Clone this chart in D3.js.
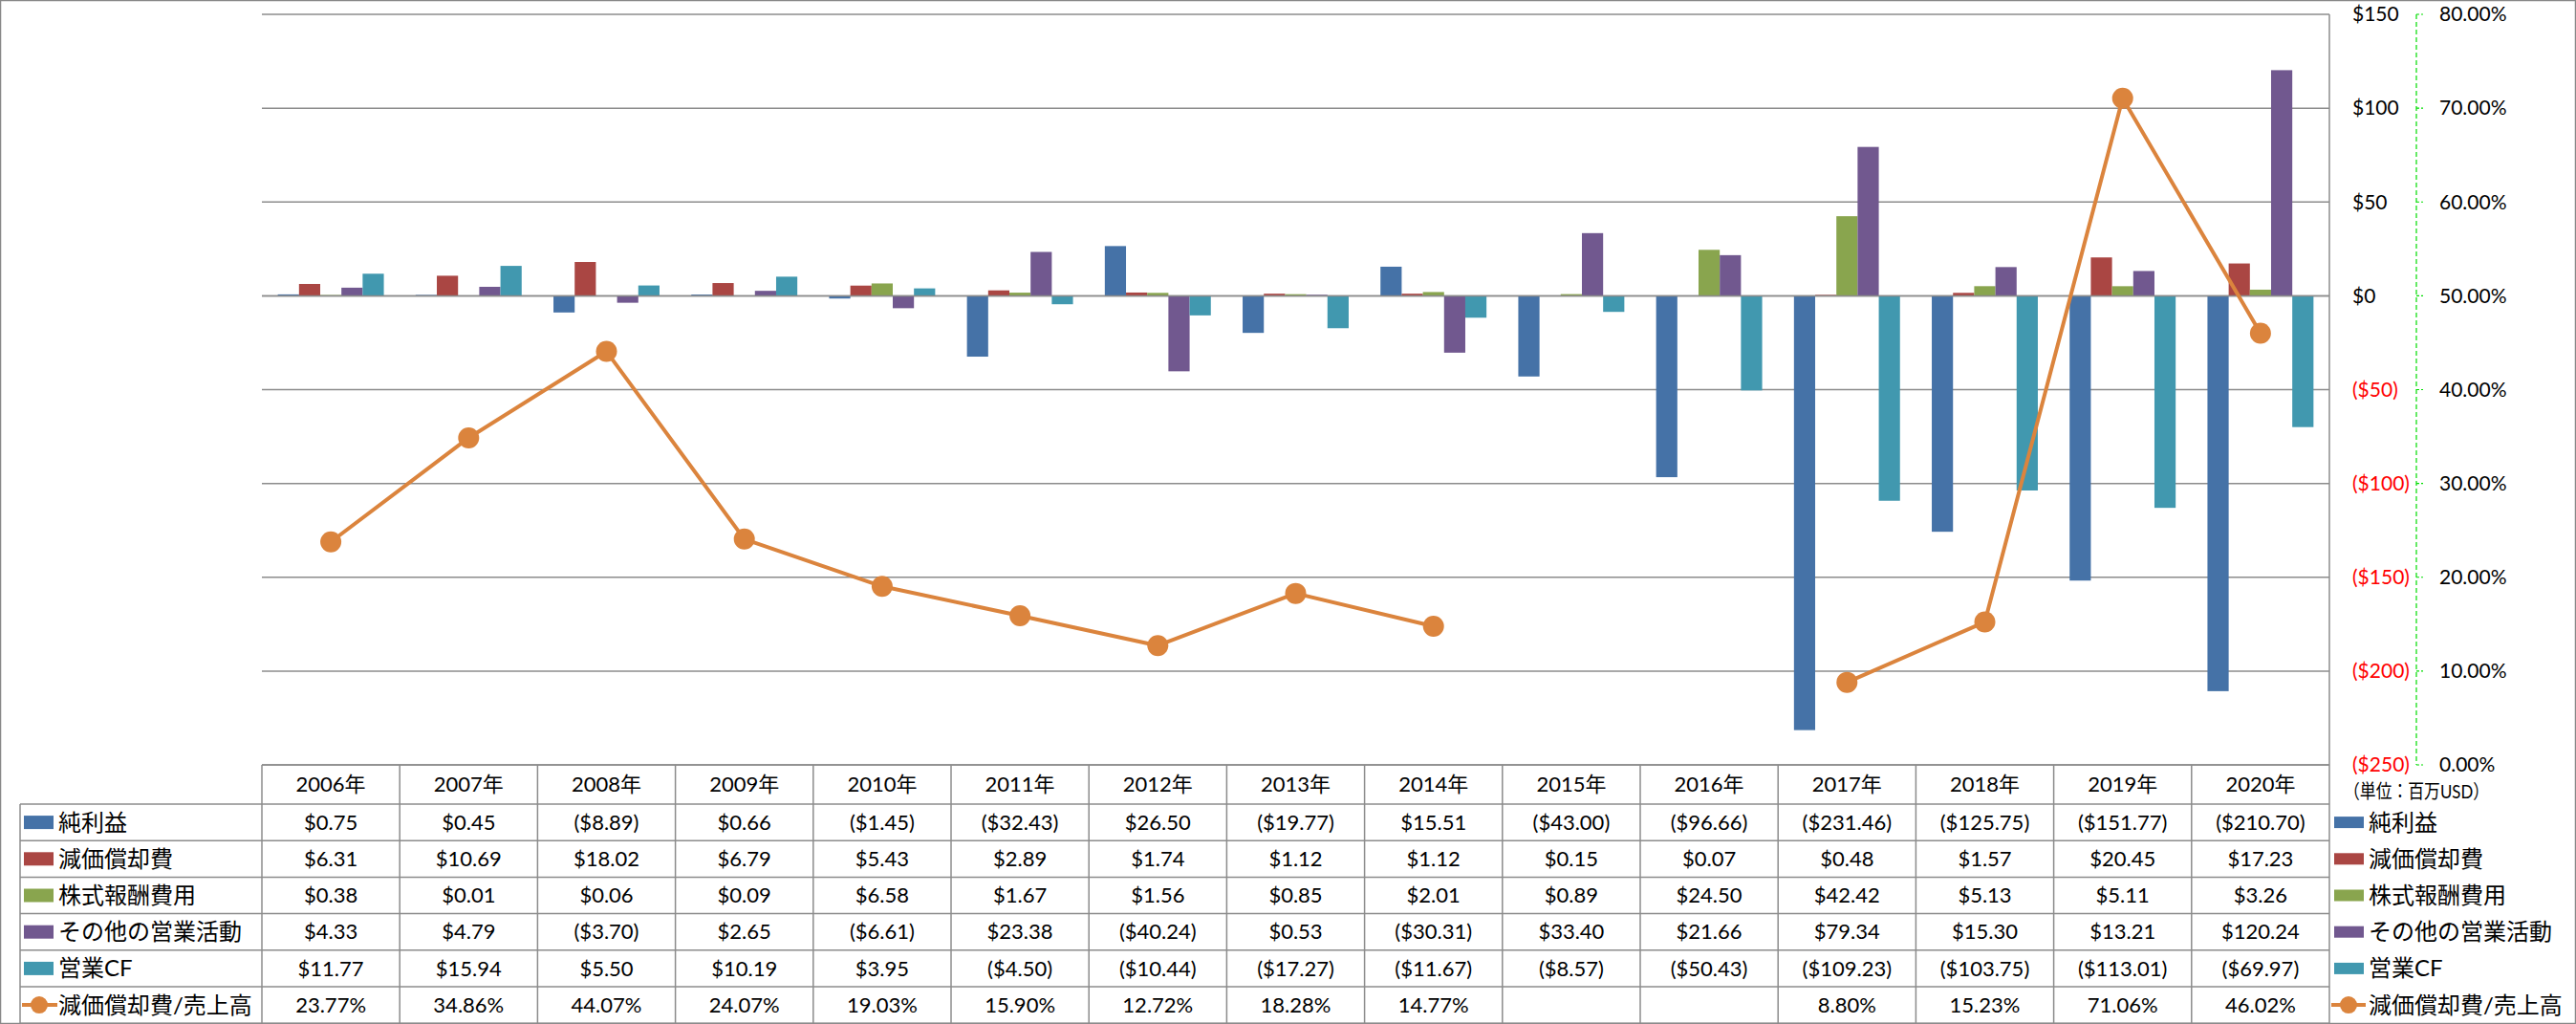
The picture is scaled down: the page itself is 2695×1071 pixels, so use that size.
<!DOCTYPE html>
<html><head><meta charset="utf-8">
<script src="https://cdn.jsdelivr.net/npm/d3@7"></script>
<style>
html,body{margin:0;padding:0;background:#fff;}
svg{display:block;}
text{font-family:Lato,"Noto Sans CJK JP",sans-serif;}
</style></head>
<body>
<svg id="chart" width="2695" height="1071"></svg>
<script>
const years = ['2006年','2007年','2008年','2009年','2010年','2011年','2012年','2013年','2014年','2015年','2016年','2017年','2018年','2019年','2020年'];
const seriesNames = ['純利益','減価償却費','株式報酬費用','その他の営業活動','営業CF'];
const netIncome = [0.75,0.45,-8.89,0.66,-1.45,-32.43,26.50,-19.77,15.51,-43.00,-96.66,-231.46,-125.75,-151.77,-210.70];
const depreciation = [6.31,10.69,18.02,6.79,5.43,2.89,1.74,1.12,1.12,0.15,0.07,0.48,1.57,20.45,17.23];
const stockComp = [0.38,0.01,0.06,0.09,6.58,1.67,1.56,0.85,2.01,0.89,24.50,42.42,5.13,5.11,3.26];
const otherOps = [4.33,4.79,-3.70,2.65,-6.61,23.38,-40.24,0.53,-30.31,33.40,21.66,79.34,15.30,13.21,120.24];
const opCF = [11.77,15.94,5.50,10.19,3.95,-4.50,-10.44,-17.27,-11.67,-8.57,-50.43,-109.23,-103.75,-113.01,-69.97];
const lineName = '減価償却費/売上高';
const ratio = [23.77,34.86,44.07,24.07,19.03,15.90,12.72,18.28,14.77,null,null,8.80,15.23,71.06,46.02];
const leftTicks = [-250,-200,-150,-100,-50,0,50,100,150];
const rightTicks = [0,0.1,0.2,0.3,0.4,0.5,0.6,0.7,0.8];
const unitLabel = '（単位：百万USD）';

const colors = ['#4572A7','#AA4643','#89A54E','#71588F','#4198AF'];
const lineColor = '#DB843D';
const gridColor = '#8C8C8C';
const seriesData = [netIncome, depreciation, stockComp, otherOps, opCF];

const svg = d3.select('#chart');
const W = 2695, H = 1071;
const plotL = 274, plotR = 2437, plotT = 15, plotB = 800;
const headerB = 841, rowH = 38.2, labelL = 21;

const x = d3.scaleBand().domain(years).range([plotL, plotR]);
const bw = x.bandwidth() / 6.5;
const x1 = d3.scaleBand().domain(seriesNames).range([0.75*bw, 0.75*bw + 5*bw]);
const y = d3.scaleLinear().domain([-250,150]).range([plotB, plotT]);
const y2 = d3.scaleLinear().domain([0,0.8]).range([plotB, plotT]);

svg.append('rect').attr('x',0.5).attr('y',0.5).attr('width',W-1).attr('height',H-1)
  .attr('fill','none').attr('stroke','#888').attr('stroke-width',1.5);

svg.append('g').selectAll('line').data(leftTicks).join('line')
  .attr('x1',plotL).attr('x2',plotR).attr('y1',d=>y(d)).attr('y2',d=>y(d))
  .attr('stroke',gridColor).attr('stroke-width',1.5);

const bars = svg.append('g');
seriesData.forEach((arr, si) => {
  bars.append('g').selectAll('rect').data(arr.map((v,i)=>({v, yr: years[i]}))).join('rect')
    .attr('x', d => x(d.yr) + x1(seriesNames[si]))
    .attr('width', x1.bandwidth())
    .attr('y', d => Math.min(y(d.v), y(0)))
    .attr('height', d => Math.abs(y(d.v) - y(0)))
    .attr('fill', colors[si]);
});

svg.append('line').attr('x1',plotL).attr('x2',plotR).attr('y1',y(0)).attr('y2',y(0))
  .attr('stroke',gridColor).attr('stroke-width',1.5);

const pts = ratio.map((v,i)=>({v, yr: years[i]}));
const lineGen = d3.line().defined(d=>d.v!==null)
  .x(d=>x(d.yr)+x.bandwidth()/2).y(d=>y2(d.v/100));
svg.append('path').datum(pts).attr('d',lineGen).attr('fill','none')
  .attr('stroke',lineColor).attr('stroke-width',4).attr('stroke-linejoin','round');
svg.append('g').selectAll('circle').data(pts.filter(d=>d.v!==null)).join('circle')
  .attr('cx',d=>x(d.yr)+x.bandwidth()/2).attr('cy',d=>y2(d.v/100)).attr('r',11)
  .attr('fill',lineColor);

svg.append('line').attr('x1',plotR).attr('x2',plotR).attr('y1',plotT).attr('y2',H-1)
  .attr('stroke',gridColor).attr('stroke-width',1.5);

const fmtMoney = v => v < 0 ? '($' + Math.abs(v) + ')' : '$' + v;
svg.append('g').selectAll('text').data(leftTicks).join('text')
  .attr('x',2461).attr('y',d=>y(d)).attr('dy','0.35em')
  .attr('font-size',21).attr('fill',d=>d<0?'#FF0000':'#000')
  .text(fmtMoney);

const axG = svg.append('g');
axG.append('line').attr('x1',2528).attr('x2',2528).attr('y1',plotT).attr('y2',plotB)
  .attr('stroke','#00DD00').attr('stroke-width',1.2).attr('stroke-dasharray','5,3');
axG.selectAll('line.tk').data(rightTicks).join('line').attr('class','tk')
  .attr('x1',2528).attr('x2',2535).attr('y1',d=>y2(d)).attr('y2',d=>y2(d))
  .attr('stroke','#00DD00').attr('stroke-width',1.2).attr('stroke-dasharray','3,2');
axG.selectAll('text').data(rightTicks).join('text')
  .attr('x',2552).attr('y',d=>y2(d)).attr('dy','0.35em')
  .attr('font-size',21).attr('fill','#000')
  .text(d=>d3.format('.2%')(d));

svg.append('text').attr('x',2452).attr('y',828).attr('dy','0.35em')
  .attr('font-size',20).attr('textLength',152).attr('lengthAdjust','spacingAndGlyphs')
  .attr('fill','#000').text(unitLabel);

const tbl = svg.append('g');
const lineStroke = (x1_,x2_,y1_,y2_) => tbl.append('line').attr('x1',x1_).attr('x2',x2_)
  .attr('y1',y1_).attr('y2',y2_).attr('stroke',gridColor).attr('stroke-width',1.5);
lineStroke(plotL, plotR, plotB, plotB);
for (let r=0;r<=6;r++) lineStroke(labelL, plotR, headerB + r*rowH, headerB + r*rowH);
lineStroke(labelL, labelL, headerB, headerB+6*rowH);
years.forEach(yr => lineStroke(x(yr), x(yr), plotB, headerB+6*rowH));

tbl.selectAll('text.hdr').data(years).join('text').attr('class','hdr')
  .attr('x',d=>x(d)+x.bandwidth()/2).attr('y',(plotB+headerB)/2).attr('dy','0.35em')
  .attr('text-anchor','middle').attr('font-size',22).text(d=>d);

const fmtCell = v => v < 0 ? '($' + d3.format('.2f')(-v) + ')' : '$' + d3.format('.2f')(v);
seriesData.forEach((arr, si) => {
  const cy = headerB + si*rowH + rowH/2;
  tbl.append('g').selectAll('text').data(arr.map((v,i)=>({v,yr:years[i]}))).join('text')
    .attr('x',d=>x(d.yr)+x.bandwidth()/2).attr('y',cy).attr('dy','0.35em')
    .attr('text-anchor','middle').attr('font-size',22).text(d=>fmtCell(d.v));
  tbl.append('rect').attr('x',25).attr('y',cy-7).attr('width',31).attr('height',14).attr('fill',colors[si]);
  tbl.append('text').attr('x',61).attr('y',cy).attr('dy','0.35em').attr('font-size',24).text(seriesNames[si]);
  tbl.append('rect').attr('x',2442).attr('y',cy-6).attr('width',31).attr('height',12).attr('fill',colors[si]);
  tbl.append('text').attr('x',2478).attr('y',cy).attr('dy','0.35em').attr('font-size',24).text(seriesNames[si]);
});
{
  const cy = headerB + 5*rowH + rowH/2;
  tbl.append('g').selectAll('text').data(pts).join('text')
    .attr('x',d=>x(d.yr)+x.bandwidth()/2).attr('y',cy).attr('dy','0.35em')
    .attr('text-anchor','middle').attr('font-size',22)
    .text(d=>d.v===null?'':d3.format('.2f')(d.v)+'%');
  tbl.append('line').attr('x1',23).attr('x2',60).attr('y1',cy).attr('y2',cy).attr('stroke',lineColor).attr('stroke-width',4);
  tbl.append('circle').attr('cx',41).attr('cy',cy).attr('r',9).attr('fill',lineColor);
  tbl.append('text').attr('x',61).attr('y',cy).attr('dy','0.35em').attr('font-size',24).text(lineName);
  tbl.append('line').attr('x1',2439).attr('x2',2475).attr('y1',cy).attr('y2',cy).attr('stroke',lineColor).attr('stroke-width',4);
  tbl.append('circle').attr('cx',2457).attr('cy',cy).attr('r',9).attr('fill',lineColor);
  tbl.append('text').attr('x',2478).attr('y',cy).attr('dy','0.35em').attr('font-size',24).text(lineName);
}
</script>
</body></html>
